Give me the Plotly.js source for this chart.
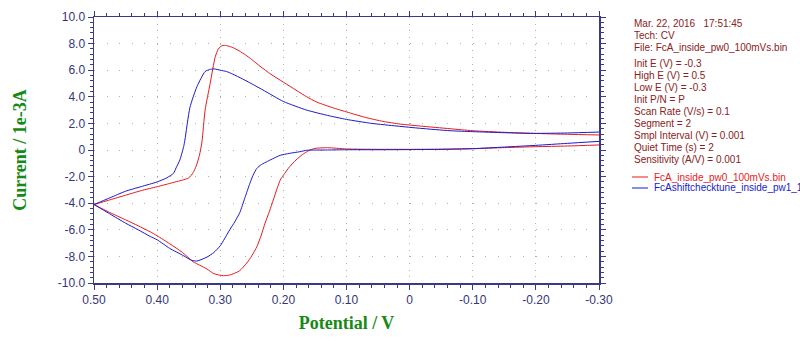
<!DOCTYPE html>
<html>
<head>
<meta charset="utf-8">
<script src="https://cdn.plot.ly/plotly-3.0.1.min.js"></script>
<style>html,body{margin:0;padding:0;background:#fff;}#chart{width:800px;height:354px;}</style>
</head>
<body>
<div id="chart"></div>
<script>
// ---- Data (potential in V, current in 1e-3 A) ----
// Red: FcA_inside_pw0_100mVs.bin — forward segment (-0.3 -> 0.5) then reverse (0.5 -> -0.3)
const redLowerV = [-0.30,-0.25,-0.20,-0.15,-0.10,-0.05,0.00,0.05,0.10,0.13,0.15,0.16,0.17,0.18,0.19,0.20,0.205,0.21,0.216,0.222,0.229,0.235,0.242,0.25,0.258,0.27,0.285,0.295,0.31,0.321,0.333,0.343,0.36,0.38,0.40,0.411,0.43,0.45,0.475,0.50];
const redLowerI = [0.38,0.30,0.25,0.18,0.10,0.06,0.05,0.05,0.08,0.17,0.12,-0.05,-0.35,-0.75,-1.25,-1.9,-2.26,-2.9,-3.76,-4.6,-5.5,-6.4,-7.27,-7.95,-8.5,-9.1,-9.4,-9.45,-9.3,-8.95,-8.65,-8.4,-7.7,-7.05,-6.45,-6.15,-5.7,-5.25,-4.7,-4.1];
const redUpperV = [0.50,0.475,0.45,0.425,0.40,0.375,0.35,0.343,0.338,0.333,0.329,0.324,0.316,0.308,0.303,0.297,0.29,0.28,0.27,0.26,0.25,0.237,0.22,0.20,0.18,0.163,0.147,0.12,0.094,0.07,0.042,0.015,-0.017,-0.064,-0.10,-0.15,-0.196,-0.25,-0.30];
const redUpperI = [-4.1,-3.75,-3.4,-3.05,-2.76,-2.45,-2.1,-1.7,-1.2,-0.4,0.6,3.0,5.0,7.0,7.6,7.85,7.85,7.7,7.45,7.15,6.8,6.3,5.7,5.1,4.5,4.0,3.6,3.15,2.78,2.45,2.15,1.95,1.8,1.6,1.45,1.33,1.25,1.18,1.13];

// Blue: FcAshiftchecktune_inside_pw1_1
const blueLowerV = [-0.30,-0.25,-0.20,-0.15,-0.10,-0.05,0.00,0.05,0.10,0.13,0.163,0.174,0.19,0.205,0.21,0.225,0.235,0.242,0.248,0.253,0.261,0.269,0.277,0.285,0.30,0.31,0.321,0.337,0.345,0.358,0.38,0.40,0.411,0.43,0.45,0.475,0.50];
const blueLowerI = [0.65,0.50,0.35,0.22,0.10,0.05,0.03,0.02,0.02,0.0,-0.02,-0.13,-0.25,-0.4,-0.5,-0.85,-1.1,-1.38,-1.9,-2.5,-3.6,-4.7,-5.4,-6.0,-7.2,-7.7,-8.05,-8.35,-8.3,-7.95,-7.4,-6.75,-6.5,-6.0,-5.5,-4.8,-4.1];
const blueUpperV = [0.50,0.475,0.45,0.425,0.40,0.385,0.374,0.37,0.364,0.358,0.356,0.348,0.337,0.324,0.317,0.31,0.30,0.29,0.28,0.265,0.253,0.23,0.20,0.163,0.13,0.10,0.06,0.02,-0.017,-0.064,-0.10,-0.15,-0.196,-0.25,-0.30];
const blueUpperI = [-4.1,-3.6,-3.1,-2.75,-2.4,-2.1,-1.75,-1.35,-0.75,0.25,0.75,3.2,4.75,5.9,6.05,6.1,6.0,5.9,5.7,5.35,5.05,4.45,3.65,3.0,2.6,2.3,2.0,1.8,1.63,1.45,1.38,1.3,1.25,1.28,1.35];

// Tick labels
const xTickVals = [0.5,0.4,0.3,0.2,0.1,0,-0.1,-0.2,-0.3];
const xTickText = ['0.50','0.40','0.30','0.20','0.10','0','-0.10','-0.20','-0.30'];
const yTickVals = [10,8,6,4,2,0,-2,-4,-6,-8,-10];
const yTickText = ['10.0','8.0','6.0','4.0','2.0','0','-2.0','-4.0','-6.0','-8.0','-10.0'];

// Info panel text
const infoLines = [
  'Mar. 22, 2016   17:51:45',
  'Tech: CV',
  'File: FcA_inside_pw0_100mVs.bin',
  'Init E (V) = -0.3',
  'High E (V) = 0.5',
  'Low E (V) = -0.3',
  'Init P/N = P',
  'Scan Rate (V/s) = 0.1',
  'Segment = 2',
  'Smpl Interval (V) = 0.001',
  'Quiet Time (s) = 2',
  'Sensitivity (A/V) = 0.001'
];
const seriesNames = ['FcA_inside_pw0_100mVs.bin', 'FcAshiftchecktune_inside_pw1_1'];
const seriesColors = ['#e8191b', '#1a1ac8'];

// ---- Layout helpers ----
const L = 94, R = 599, T = 17, B = 283;
const px2x = p => (p - L) / (R - L);
const px2y = p => (B - p) / (B - T);
const infoY = [23, 35, 47, 63, 75.5, 87.5, 99.5, 111.5, 123.5, 135.5, 147, 159];
const legendY = [177, 188];

const traces = [
  {x: redLowerV.concat(redUpperV), y: redLowerI.concat(redUpperI), name: seriesNames[0]},
  {x: blueLowerV.concat(blueUpperV), y: blueLowerI.concat(blueUpperI), name: seriesNames[1]}
].map((t, i) => Object.assign(t, {
  type: 'scatter', mode: 'lines', line: {color: seriesColors[i], width: 1, shape: 'spline', smoothing: 0.6}, showlegend: false, hoverinfo: 'skip'
}));

const axisColor = '#3a3a88';
const labelFont = {family: 'Liberation Sans, Arial, sans-serif', size: 12, color: '#35357a'};
const titleFont = {family: 'Liberation Serif, Times New Roman, serif', size: 18, color: '#168a16', weight: 'bold'};

const annotations = infoLines.map((s, i) => ({
  xref: 'paper', yref: 'paper', x: px2x(632), y: px2y(infoY[i]), xanchor: 'left', yanchor: 'middle',
  text: s, showarrow: false, font: {family: 'Liberation Sans, Arial, sans-serif', size: 10, color: '#8a2222'}
}));
seriesNames.forEach((s, i) => annotations.push({
  xref: 'paper', yref: 'paper', x: px2x(652), y: px2y(legendY[i]), xanchor: 'left', yanchor: 'middle',
  text: s, showarrow: false, font: {family: 'Liberation Sans, Arial, sans-serif', size: 10, color: seriesColors[i]}
}));
const shapes = seriesNames.map((s, i) => ({
  type: 'line', xref: 'paper', yref: 'paper', x0: px2x(632), x1: px2x(648), y0: px2y(legendY[i]), y1: px2y(legendY[i]),
  line: {color: seriesColors[i], width: 1}
}));

const layout = {
  width: 800, height: 354,
  margin: {l: L, r: 800 - R, t: T, b: 354 - B},
  paper_bgcolor: '#ffffff', plot_bgcolor: '#ffffff',
  showlegend: false,
  xaxis: {
    range: [0.5, -0.3], autorange: false,
    tickmode: 'array', tickvals: xTickVals, ticktext: xTickText,
    showline: true, linecolor: axisColor, linewidth: 1.5, mirror: 'allticks',
    ticks: 'outside', ticklen: 5, tickwidth: 1, tickcolor: axisColor,
    minor: {dtick: 0.02, ticks: 'outside', ticklen: 3, tickwidth: 1, tickcolor: axisColor, showgrid: false},
    showgrid: true, gridcolor: '#b0b0b0', gridwidth: 1, griddash: '1px,5.65px',
    zeroline: false, tickfont: labelFont,
    title: {text: 'Potential / V', font: titleFont, standoff: 10}
  },
  yaxis: {
    range: [-10, 10], autorange: false,
    tickmode: 'array', tickvals: yTickVals, ticktext: yTickText,
    showline: true, linecolor: axisColor, linewidth: 1.5, mirror: 'allticks',
    ticks: 'outside', ticklen: 5, tickwidth: 1, tickcolor: axisColor,
    minor: {dtick: 0.4, ticks: 'outside', ticklen: 3, tickwidth: 1, tickcolor: axisColor, showgrid: false},
    showgrid: true, gridcolor: '#b0b0b0', gridwidth: 1, griddash: '1px,11.62px',
    zeroline: false, tickfont: labelFont,
    title: {text: 'Current / 1e-3A', font: titleFont, standoff: 26}
  },
  annotations: annotations,
  shapes: shapes
};

Plotly.newPlot('chart', traces, layout, {displayModeBar: false, staticPlot: true});
</script>
</body>
</html>
